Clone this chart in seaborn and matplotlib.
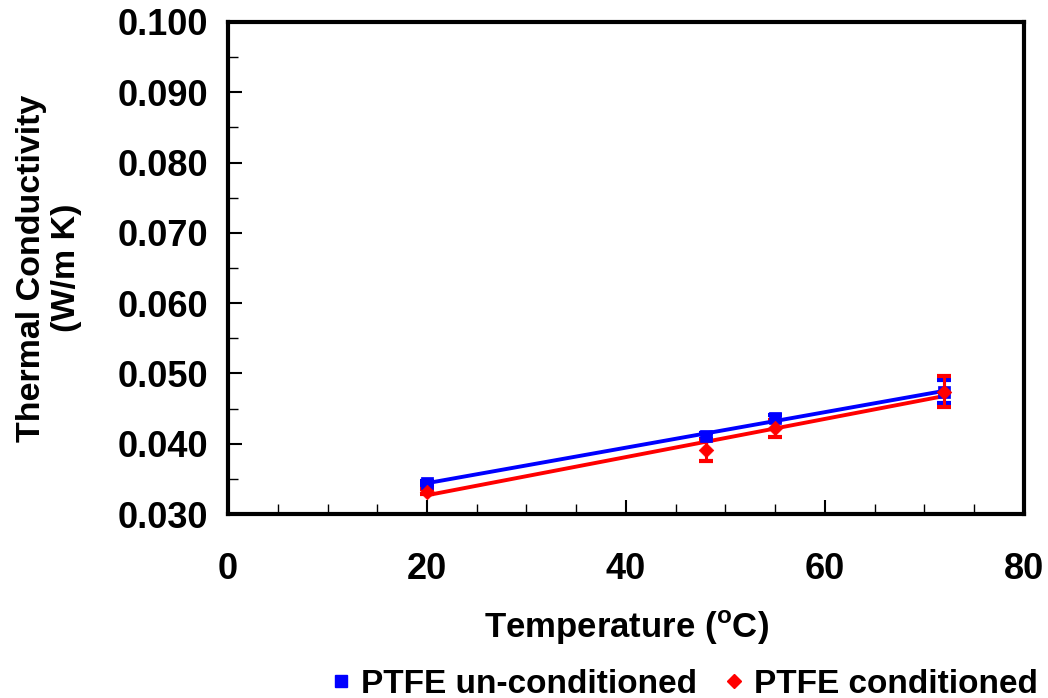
import matplotlib

matplotlib.use("Agg")
import matplotlib.pyplot as plt
import numpy as np
import pandas as pd
import seaborn as sns
from matplotlib.lines import Line2D
from matplotlib.ticker import MultipleLocator, FormatStrFormatter

# --- data ---------------------------------------------------------------- #
temp = [20, 48, 55, 72]
k_uncond = [0.0344, 0.0411, 0.0437, 0.0474]
k_uncond_err = [0.0003, 0.0004, 0.0004, 0.0016]
k_cond = [0.0332, 0.0391, 0.0422, 0.0474]
k_cond_err = [0.0003, 0.0015, 0.0012, 0.0022]
series_names = ["PTFE un-conditioned", "PTFE conditioned"]
colors = ["#0000ff", "#ff0000"]
markers = ["s", "D"]

sns.set_style("white")
plt.rcParams["font.family"] = ["Liberation Sans", "DejaVu Sans"]
plt.rcParams["font.weight"] = "bold"
plt.rcParams["mathtext.fontset"] = "custom"
plt.rcParams["mathtext.rm"] = "Liberation Sans:bold"
plt.rcParams["mathtext.bf"] = "Liberation Sans:bold"
for key in ["text.color", "axes.labelcolor", "xtick.color", "ytick.color"]:
    plt.rcParams[key] = "black"

df = pd.concat([
    pd.DataFrame({"T": temp, "k": k_uncond, "err": k_uncond_err, "series": series_names[0]}),
    pd.DataFrame({"T": temp, "k": k_cond, "err": k_cond_err, "series": series_names[1]}),
])

fig = plt.figure(figsize=(10.48, 6.98), dpi=100)
ax = fig.add_axes([0.2176, 0.2636, 0.7594, 0.7049])

for name, col, mk, msize in zip(series_names, colors, markers, [80, 55]):
    sub = df[df["series"] == name]
    ax.errorbar(sub["T"], sub["k"], yerr=sub["err"], fmt="none", ecolor=col,
                elinewidth=2.2, capsize=5, capthick=3, zorder=2)
    sns.regplot(data=sub, x="T", y="k", ax=ax, scatter=False, ci=None,
                color=col, line_kws={"lw": 2.8, "zorder": 3})
    sns.scatterplot(data=sub, x="T", y="k", ax=ax, color=col, marker=mk,
                    s=msize, edgecolor=col, linewidth=0.5, zorder=4, legend=False)

ax.set_xlim(0, 80)
ax.set_ylim(0.030, 0.100)
ax.xaxis.set_major_locator(MultipleLocator(20))
ax.xaxis.set_minor_locator(MultipleLocator(5))
ax.yaxis.set_major_locator(MultipleLocator(0.010))
ax.yaxis.set_minor_locator(MultipleLocator(0.005))
ax.yaxis.set_major_formatter(FormatStrFormatter("%.3f"))
ax.tick_params(which="both", direction="in", top=False, right=False,
               bottom=True, left=True, color="black")
ax.tick_params(which="major", length=10, width=1.5, labelsize=26)
ax.tick_params(axis="x", which="major", pad=27)
ax.tick_params(axis="y", which="major", pad=14)
ax.tick_params(which="minor", length=7, width=1)
for lbl in ax.get_xticklabels() + ax.get_yticklabels():
    lbl.set_fontweight("bold")
for sp in ax.spines.values():
    sp.set_linewidth(3)
    sp.set_color("black")

ax.set_xlabel(r"Temperature ($^{\mathrm{o}}$C)", fontsize=25, fontweight="bold", labelpad=16)
ax.set_ylabel("Thermal Conductivity\n(W/m K)", fontsize=24.5, fontweight="bold",
              labelpad=26, linespacing=1.15)

handles = [
    Line2D([], [], ls="none", marker=m, color=c, markersize=ms)
    for m, c, ms in zip(markers, colors, [9, 7])
]
fig.legend(handles, series_names, loc="center", bbox_to_anchor=(0.65, 0.02),
           ncol=2, frameon=False, prop={"weight": "bold", "size": 24},
           handletextpad=0.1, columnspacing=0.6, handlelength=1.0)

fig.savefig("out.png", dpi=100)
